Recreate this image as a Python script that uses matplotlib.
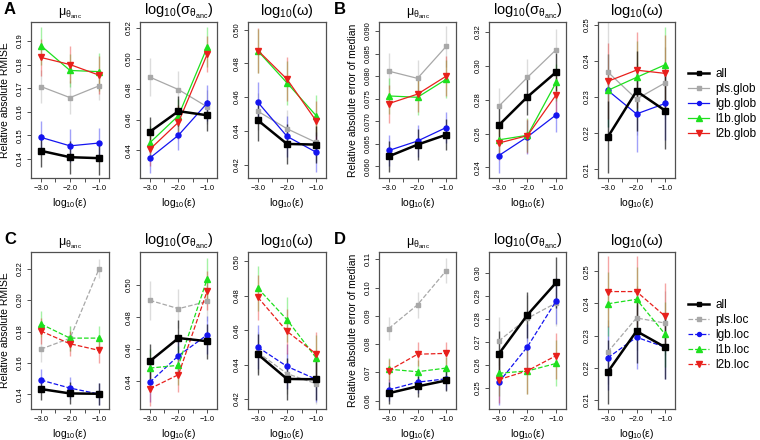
import numpy as np
import matplotlib.pyplot as plt
from matplotlib.lines import Line2D

plt.rcParams['font.family'] = ['Liberation Sans', 'DejaVu Sans']
plt.rcParams['mathtext.fontset'] = 'dejavusans'

# x positions: log10(eps)
eps = [-3.0, -2.0, -1.0]

# row order in every block: all, pls, lgb, l1b, l2b
# --- A: global, RMISE ---
a_mu = [[0.1435, 0.1408, 0.1404],
        [0.1707, 0.1660, 0.1710],
        [0.1492, 0.1456, 0.1468],
        [0.1880, 0.1775, 0.1770],
        [0.1830, 0.1800, 0.1755]]
a_mu_err = [[0.007, 0.007, 0.007],
            [0.007, 0.007, 0.006],
            [0.007, 0.007, 0.0065],
            [0.008, 0.007, 0.008],
            [0.008, 0.008, 0.008]]
a_sig = [[0.4522, 0.4657, 0.4630],
         [0.4880, 0.4798, 0.4685],
         [0.4350, 0.4500, 0.4710],
         [0.4450, 0.4628, 0.5076],
         [0.4407, 0.4585, 0.5030]]
a_sig_err = [[0.010, 0.010, 0.010],
             [0.0125, 0.012, 0.011],
             [0.010, 0.010, 0.012],
             [0.011, 0.011, 0.013],
             [0.011, 0.011, 0.012]]
a_om = [[0.4462, 0.4322, 0.4318],
        [0.4516, 0.4412, 0.4331],
        [0.4569, 0.4367, 0.4273],
        [0.4873, 0.4684, 0.4490],
        [0.4876, 0.4706, 0.4459]]
a_om_err = [[0.012, 0.012, 0.011],
            [0.011, 0.011, 0.011],
            [0.012, 0.012, 0.012],
            [0.013, 0.013, 0.012],
            [0.0135, 0.013, 0.012]]

# --- B: global, error of median ---
b_mu = [[0.0622, 0.0648, 0.0670],
        [0.0811, 0.0795, 0.0866],
        [0.0635, 0.0656, 0.0686],
        [0.0756, 0.0753, 0.0793],
        [0.0739, 0.0760, 0.0800]]
b_mu_err = [[0.0035, 0.0035, 0.0035],
            [0.004, 0.004, 0.0045],
            [0.0035, 0.0035, 0.0035],
            [0.004, 0.004, 0.0042],
            [0.0042, 0.004, 0.0045]]
b_sig = [[0.2649, 0.2817, 0.2963],
         [0.2761, 0.2932, 0.3095],
         [0.2470, 0.2581, 0.2711],
         [0.2563, 0.2590, 0.2903],
         [0.2544, 0.2588, 0.2829]]
b_sig_err = [[0.010, 0.011, 0.011],
             [0.011, 0.011, 0.012],
             [0.010, 0.010, 0.010],
             [0.010, 0.010, 0.011],
             [0.010, 0.010, 0.011]]
b_om = [[0.2189, 0.2316, 0.2262],
        [0.2369, 0.2294, 0.2339],
        [0.2318, 0.2253, 0.2282],
        [0.2318, 0.2354, 0.2389],
        [0.2343, 0.2374, 0.2365]]
b_om_err = [[0.010, 0.011, 0.0105],
            [0.019, 0.010, 0.010],
            [0.010, 0.0105, 0.010],
            [0.010, 0.010, 0.0105],
            [0.0105, 0.0105, 0.0105]]

# --- C: local, RMISE ---
c_mu = [[0.1434, 0.1406, 0.1404],
        [0.1688, 0.1757, 0.2200],
        [0.1491, 0.1440, 0.1402],
        [0.1848, 0.1758, 0.1758],
        [0.1803, 0.1722, 0.1680]]
c_mu_err = [[0.007, 0.007, 0.007],
            [0.008, 0.008, 0.006],
            [0.007, 0.007, 0.007],
            [0.008, 0.008, 0.008],
            [0.008, 0.008, 0.008]]
c_sig = [[0.4525, 0.4670, 0.4650],
         [0.4905, 0.4853, 0.4898],
         [0.4394, 0.4560, 0.4690],
         [0.4483, 0.4500, 0.5040],
         [0.4354, 0.4442, 0.4965]]
c_sig_err = [[0.011, 0.011, 0.011],
             [0.012, 0.012, 0.012],
             [0.012, 0.012, 0.012],
             [0.012, 0.012, 0.013],
             [0.011, 0.011, 0.012]]
c_om = [[0.4459, 0.4316, 0.4314],
        [0.4470, 0.4347, 0.4288],
        [0.4501, 0.4389, 0.4314],
        [0.4844, 0.4661, 0.4439],
        [0.4791, 0.4593, 0.4462]]
c_om_err = [[0.012, 0.012, 0.012],
            [0.012, 0.012, 0.012],
            [0.013, 0.013, 0.013],
            [0.013, 0.013, 0.013],
            [0.013, 0.013, 0.013]]

# --- D: local, error of median ---
d_mu = [[0.0626, 0.0650, 0.0671],
        [0.0855, 0.0939, 0.1060],
        [0.0638, 0.0665, 0.0677],
        [0.0711, 0.0702, 0.0715],
        [0.0706, 0.0764, 0.0767]]
d_mu_err = [[0.0038, 0.0038, 0.0038],
            [0.0042, 0.0045, 0.0045],
            [0.004, 0.004, 0.004],
            [0.004, 0.004, 0.004],
            [0.004, 0.0042, 0.0042]]
d_sig = [[0.2647, 0.2818, 0.2959],
         [0.2704, 0.2803, 0.2870],
         [0.2523, 0.2679, 0.2879],
         [0.2563, 0.2573, 0.2606],
         [0.2535, 0.2574, 0.2640]]
d_sig_err = [[0.010, 0.010, 0.011],
             [0.0105, 0.010, 0.010],
             [0.010, 0.010, 0.010],
             [0.010, 0.010, 0.010],
             [0.010, 0.010, 0.010]]
d_om = [[0.2187, 0.2314, 0.2264],
        [0.2249, 0.2355, 0.2339],
        [0.2231, 0.2295, 0.2264],
        [0.2399, 0.2413, 0.2304],
        [0.2437, 0.2437, 0.2360]]
d_om_err = [[0.010, 0.010, 0.010],
            [0.010, 0.010, 0.010],
            [0.010, 0.010, 0.010],
            [0.010, 0.010, 0.010],
            [0.011, 0.011, 0.0105]]

methods_glob = ['all', 'pls.glob', 'lgb.glob', 'l1b.glob', 'l2b.glob']
methods_loc = ['all', 'pls.loc', 'lgb.loc', 'l1b.loc', 'l2b.loc']
colors = ['#000000', '#a8a8a8', '#1414f0', '#1ee01e', '#e8201c']
markers = ['s', 's', 'o', '^', 'v']
msizes = [4.2, 3.4, 3.6, 4.6, 4.6]

titles = [r'$\mathregular{\mu_{\theta_{anc}}}$',
          r'$\mathregular{log_{10}(\sigma_{\theta_{anc}})}$',
          r'$\mathregular{log_{10}(\omega)}$']
title_sizes = [9, 10.5, 10.5]

y_ticks = {
    'A': [[0.14, 0.15, 0.16, 0.17, 0.18, 0.19], [0.44, 0.46, 0.48, 0.50, 0.52], [0.42, 0.44, 0.46, 0.48, 0.50]],
    'B': [[0.060, 0.065, 0.070, 0.075, 0.080, 0.085, 0.090], [0.24, 0.26, 0.28, 0.30, 0.32], [0.21, 0.22, 0.23, 0.24, 0.25]],
    'C': [[0.14, 0.16, 0.18, 0.20, 0.22], [0.44, 0.46, 0.48, 0.50], [0.42, 0.44, 0.46, 0.48, 0.50]],
    'D': [[0.06, 0.07, 0.08, 0.09, 0.10, 0.11], [0.25, 0.26, 0.27, 0.28, 0.29, 0.30], [0.21, 0.22, 0.23, 0.24, 0.25]],
}
y_lims = {
    'A': [(0.132, 0.198), (0.422, 0.524), (0.412, 0.5045)],
    'B': [(0.0574, 0.092), (0.2338, 0.3258), (0.2076, 0.2507)],
    'C': [(0.1307, 0.2306), (0.4228, 0.5206), (0.4141, 0.5055)],
    'D': [(0.057, 0.1126), (0.2407, 0.3092), (0.2072, 0.256)],
}

panels = {
    'A': ([a_mu, a_sig, a_om], [a_mu_err, a_sig_err, a_om_err]),
    'B': ([b_mu, b_sig, b_om], [b_mu_err, b_sig_err, b_om_err]),
    'C': ([c_mu, c_sig, c_om], [c_mu_err, c_sig_err, c_om_err]),
    'D': ([d_mu, d_sig, d_om], [d_mu_err, d_sig_err, d_om_err]),
}

W, H = 760, 440
fig = plt.figure(figsize=(W / 100, H / 100), dpi=100)

cols_left = [(31, 109), (140, 217), (248, 326)]
cols_right = [(379, 456), (489, 566), (598, 675)]
rows = {'top': (22, 178), 'bottom': (252, 409)}
layout = {'A': (cols_left, 'top'), 'B': (cols_right, 'top'),
          'C': (cols_left, 'bottom'), 'D': (cols_right, 'bottom')}
ylabels = {'A': 'Relative absolute RMISE', 'B': 'Relative absolute error of median',
           'C': 'Relative absolute RMISE', 'D': 'Relative absolute error of median'}
frame = '#505050'


def draw_sub(ax, vals, errs, dashed):
    ls = '--' if dashed else '-'
    # coloured methods first, black "all" on top
    for i in [1, 2, 3, 4, 0]:
        v = np.array(vals[i])
        e = np.array(errs[i])
        ax.vlines(eps, v - e, v + e, color=colors[i], alpha=0.4 if i else 0.65,
                  lw=1.0, zorder=1)
        ax.plot(eps, v, ls='-' if i == 0 else ls, color=colors[i],
                lw=1.8 if i == 0 else 0.9, marker=markers[i], ms=msizes[i],
                mec=colors[i], zorder=3 if i == 0 else 2)


for key, (cols, row) in layout.items():
    vals_list, errs_list = panels[key]
    y0, y1 = rows[row]
    dashed = key in ('C', 'D')
    for j, (x0, x1) in enumerate(cols):
        ax = fig.add_axes([x0 / W, (H - y1) / H, (x1 - x0) / W, (y1 - y0) / H])
        draw_sub(ax, vals_list[j], errs_list[j], dashed)
        ax.set_xlim(-3.34, -0.66)
        ax.set_ylim(*y_lims[key][j])
        ax.set_xticks([-3, -2.5, -2, -1.5, -1])
        ax.set_xticklabels(['\u22123.0', '', '\u22122.0', '', '\u22121.0'], fontsize=5.5)
        yt = y_ticks[key][j]
        fmt = '%.3f' if key == 'B' and j == 0 else '%.2f'
        ax.set_yticks(yt)
        ax.set_yticklabels([fmt % t for t in yt], fontsize=5.5, rotation=90, va='center')
        ax.tick_params(length=3, width=0.7, color=frame, pad=2)
        for s in ax.spines.values():
            s.set_color(frame)
            s.set_linewidth(0.9)
        ax.set_title(titles[j], fontsize=title_sizes[j], pad=5)
        ax.set_xlabel(r'$\mathregular{log_{10}(\varepsilon)}$', fontsize=7.5, labelpad=3)
        if j == 0:
            ax.set_ylabel(ylabels[key], fontsize=7.5, labelpad=5)

    # panel letter
    lx = 4 if key in ('A', 'C') else 334
    ly = 10 if row == 'top' else 240
    fig.text(lx / W, 1 - ly / H, key, fontsize=12, fontweight='bold', va='center')

    # legend on the right side of each row
    if key in ('B', 'D'):
        names = methods_glob if key == 'B' else methods_loc
        handles = []
        for i in range(5):
            handles.append(Line2D([], [], color=colors[i], ls='-' if (i == 0 or not dashed) else '--',
                                  lw=1.8 if i == 0 else 0.9, marker=markers[i],
                                  ms=msizes[i] * 0.8, mec=colors[i]))
        ly0 = 68 if row == 'top' else 299
        fig.legend(handles, names, loc='upper left', bbox_to_anchor=(688 / W, 1 - ly0 / H),
                   frameon=False, fontsize=8.5, handlelength=1.8, handletextpad=0.5,
                   labelspacing=0.25, borderaxespad=0, borderpad=0)

fig.savefig('out.png', dpi=100)
